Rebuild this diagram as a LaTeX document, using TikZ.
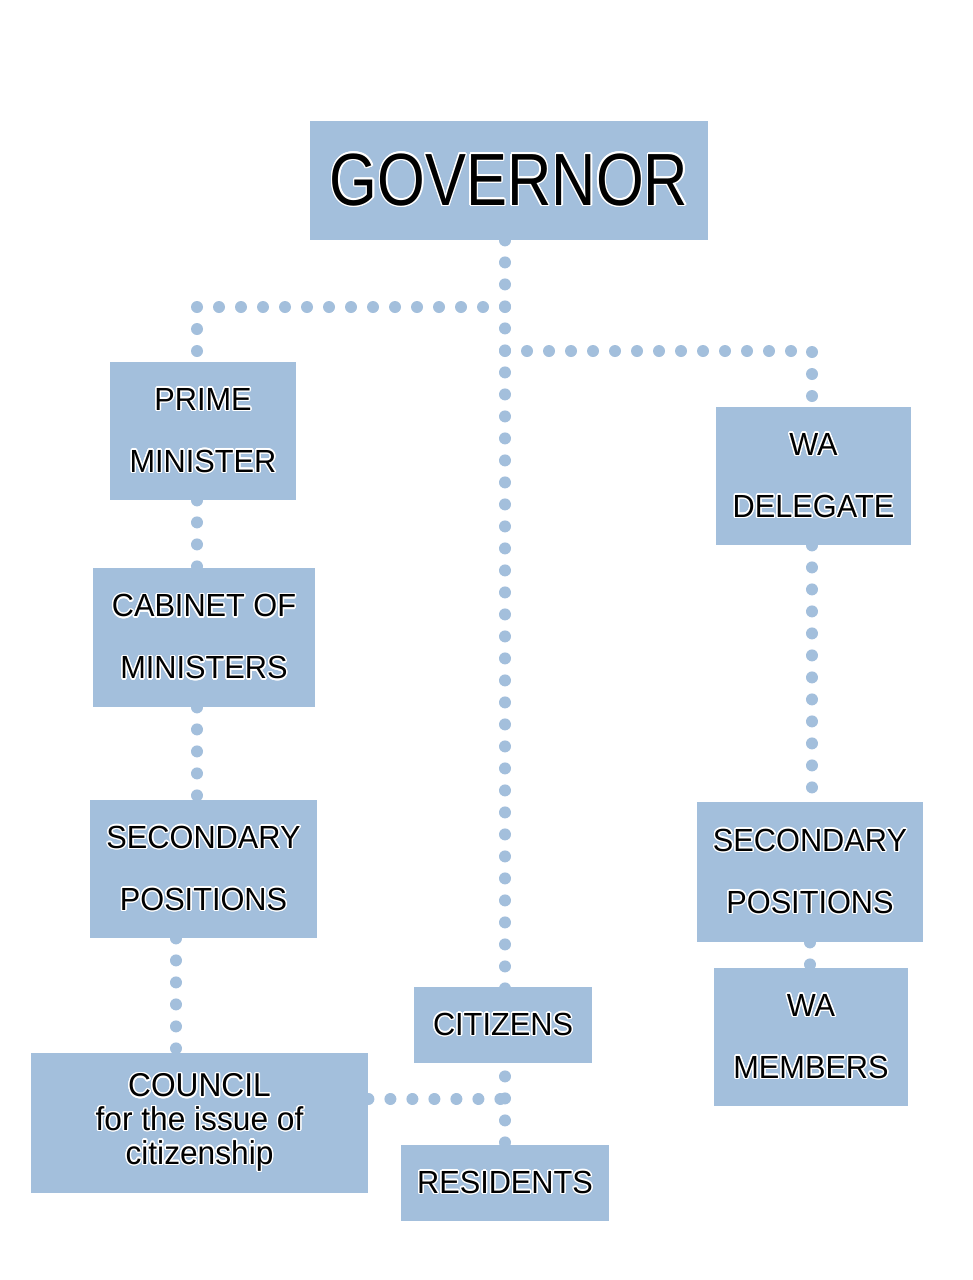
\documentclass[tikz,border=0pt]{standalone}
\usepackage{fontspec}
\setmainfont{Liberation Sans}[FakeStretch=0.96]
\newfontfamily\govfont[FakeStretch=0.83]{Liberation Sans}
\usepackage[copies]{contour}
\contourlength{0.7pt}
\contournumber{16}
\usetikzlibrary{backgrounds, positioning}
\definecolor{paleblue}{RGB}{163,191,220}
\tikzset{
  box/.style={
    rectangle,
    fill=paleblue,
    inner sep=0pt,
    align=center,
    font=\fontsize{16}{31}\selectfont,
  },
  govbox/.style={
    box,
    font=\govfont\fontsize{37}{40}\selectfont
  },
  link/.style={
    draw=paleblue,
    line width=6pt,
    line cap=round,
    dash pattern=on 0pt off 11pt
  }
}
\newcommand{\lbl}[1]{\contour{white}{#1}}

\begin{document}
\begin{tikzpicture}[x=0.5pt, y=-0.5pt]
\useasboundingbox (0,0) rectangle (973,1280);

% --- Sommet ---
\node[govbox, minimum width=199pt, minimum height=59.5pt] (gov) at (509,180.5) {\lbl{GOVERNOR}};

% --- Branche gauche ---
\node[box, minimum width=93pt, minimum height=69pt] (pm) at (203,431) {\lbl{PRIME}\\ \lbl{MINISTER}};
\node[box, minimum width=111pt, minimum height=69.5pt] (cab) at (204,637.5) {\lbl{CABINET OF}\\ \lbl{MINISTERS}};
\node[box, minimum width=113.5pt, minimum height=69pt] (secl) at (203.5,869) {\lbl{SECONDARY}\\ \lbl{POSITIONS}};
\node[box, minimum width=168.5pt, minimum height=70pt,
      font=\fontsize{16.5}{16.8}\selectfont] (council) at (199.5,1123)
  {\lbl{COUNCIL}\\ \lbl{for the issue of}\\ \lbl{citizenship}};

% --- Centre ---
\node[box, minimum width=89pt, minimum height=38pt] (cit) at (503,1025) {\lbl{CITIZENS}};
\node[box, minimum width=104pt, minimum height=38pt] (res) at (505,1183) {\lbl{RESIDENTS}};

% --- Branche droite ---
\node[box, minimum width=97.5pt, minimum height=69pt] (wad) at (813.5,476) {\lbl{WA}\\ \lbl{DELEGATE}};
\node[box, minimum width=113pt, minimum height=70pt] (secr) at (810,872) {\lbl{SECONDARY}\\ \lbl{POSITIONS}};
\node[box, minimum width=97pt, minimum height=69pt] (wam) at (811,1037) {\lbl{WA}\\ \lbl{MEMBERS}};

\coordinate (splitl) at (505,307);
\coordinate (splitr) at (505,351);

% --- Liaisons en pointillés ---
\begin{scope}[on background layer]
\draw[link] (res.north |- gov.south) -- (res.north);
\draw[link] (splitl) -| ([xshift=-3pt]pm.north);
\draw[link] (splitr) -| ([xshift=-0.75pt]wad.north);
\draw[link] ([xshift=-3pt]pm.south) -- ([xshift=-3pt]pm.south |- cab.north);
\draw[link] ([xshift=-3.5pt]cab.south) -- ([xshift=-3.5pt]cab.south |- secl.north);
\draw[link] ([xshift=-13.75pt]secl.south) -- ([xshift=-13.75pt]secl.south |- council.north);
\draw[link] ([yshift=12pt]council.east) -- ([yshift=12pt]council.east -| res.north);
\draw[link] ([xshift=-0.75pt]wad.south) -- ([xshift=-0.75pt]wad.south |- secr.north);
\draw[link] (secr.south) -- (secr.south |- wam.north);
\end{scope}

\end{tikzpicture}
\end{document}
